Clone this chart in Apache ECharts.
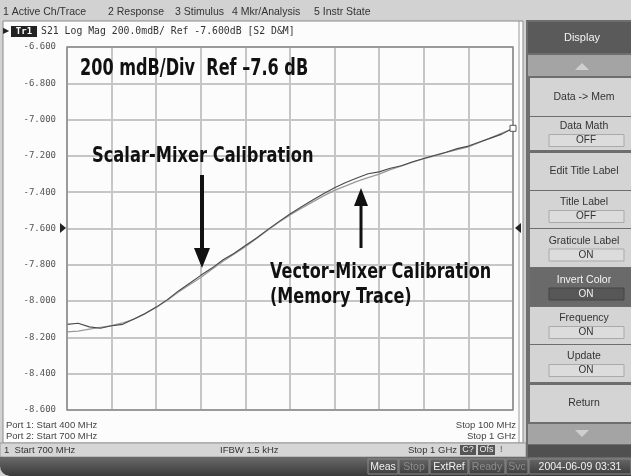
<!DOCTYPE html>
<html>
<head>
<meta charset="utf-8">
<script src="https://cdn.jsdelivr.net/npm/echarts@6/dist/echarts.min.js"></script>
<style>
  html, body { margin: 0; padding: 0; background: #d4d4d4; }
  #chart { width: 631px; height: 476px; }
</style>
</head>
<body>
<div id="chart"></div>
<script>
// stimulus points, MHz (700 MHz .. 1 GHz)
var freqs = [700, 707.5, 715, 722.5, 730, 737.5, 745, 752.5, 760, 767.5,
  775, 782.5, 790, 797.5, 805, 812.5, 820, 827.5, 835, 842.5,
  850, 857.5, 865, 872.5, 880, 887.5, 895, 902.5, 910, 917.5,
  925, 932.5, 940, 947.5, 955, 962.5, 970, 977.5, 985, 992.5, 1000];

// S21 data trace (scalar-mixer cal), dB
var dataTrace = [-8.128, -8.122, -8.142, -8.150, -8.136, -8.128, -8.098, -8.068, -8.033, -7.992,
  -7.944, -7.902, -7.858, -7.818, -7.772, -7.736, -7.694, -7.652, -7.606, -7.562,
  -7.520, -7.482, -7.444, -7.408, -7.376, -7.346, -7.322, -7.298, -7.288, -7.268,
  -7.254, -7.232, -7.214, -7.196, -7.180, -7.160, -7.146, -7.124, -7.102, -7.080, -7.048];

// memory trace (vector-mixer cal), dB
var memTrace = [-8.170, -8.165, -8.155, -8.145, -8.135, -8.120, -8.100, -8.070, -8.035, -7.995,
  -7.950, -7.910, -7.870, -7.825, -7.780, -7.740, -7.700, -7.655, -7.610, -7.565,
  -7.525, -7.490, -7.455, -7.420, -7.390, -7.365, -7.340, -7.320, -7.300, -7.276,
  -7.255, -7.235, -7.215, -7.200, -7.180, -7.165, -7.150, -7.125, -7.100, -7.075, -7.050];

var yTicks = { min: -8.6, max: -6.6, step: 0.2 };

var menuItems = [
  { text: '1 Active Ch/Trace', x: 3 },
  { text: '2 Response', x: 108 },
  { text: '3 Stimulus', x: 175 },
  { text: '4 Mkr/Analysis', x: 232 },
  { text: '5 Instr State', x: 314 }
];

// softkeys: label, sub value, top, bottom, dark
var softkeys = [
  { label: 'Data -> Mem', sub: null, y0: 78, y1: 116 },
  { label: 'Data Math', sub: 'OFF', y0: 117, y1: 150 },
  { label: 'Edit Title Label', sub: null, y0: 153, y1: 190 },
  { label: 'Title Label', sub: 'OFF', y0: 191, y1: 228 },
  { label: 'Graticule Label', sub: 'ON', y0: 229, y1: 267 },
  { label: 'Invert Color', sub: 'ON', y0: 268, y1: 306, dark: true },
  { label: 'Frequency', sub: 'ON', y0: 307, y1: 344 },
  { label: 'Update', sub: 'ON', y0: 345, y1: 382 },
  { label: 'Return', sub: null, y0: 385, y1: 422 }
];

var statusItems = [
  { text: 'Meas', x: 368, w: 30, dim: false },
  { text: 'Stop', x: 399, w: 30, dim: true },
  { text: 'ExtRef', x: 430, w: 38, dim: false },
  { text: 'Ready', x: 469, w: 36, dim: true },
  { text: 'Svc', x: 506, w: 22, dim: true },
  { text: '2004-06-09 03:31', x: 529, w: 102, dim: false }
];

var uiFont = "'Liberation Sans', 'DejaVu Sans', sans-serif";
var monoFont = "'DejaVu Sans Mono', 'Liberation Mono', monospace";
var boldFont = "'DejaVu Sans', 'Liberation Sans', sans-serif";

var g = [];
// screen frame
g.push({ type: 'rect', z: -20, shape: { x: 0, y: 0, width: 631, height: 476 }, style: { fill: '#d2d2d2' } });
// plot window
g.push({ type: 'rect', z: -19, shape: { x: 3, y: 21, width: 520, height: 422 }, style: { fill: '#fcfcfc', stroke: '#8a8a8a', lineWidth: 1 } });
g.push({ type: 'line', z: -18, shape: { x1: 519, y1: 21, x2: 519, y2: 443 }, style: { stroke: '#9a9a9a', lineWidth: 1 } });
// menu
menuItems.forEach(function (m) {
  g.push({ type: 'text', z: 10, x: m.x, y: 12, style: { text: m.text, font: '10.5px ' + uiFont, fill: '#333', textVerticalAlign: 'middle' } });
});
// title line
g.push({ type: 'text', z: 10, x: 3, y: 31, style: { text: '\u25B6', font: '8px ' + uiFont, fill: '#222', textVerticalAlign: 'middle' } });
g.push({ type: 'rect', z: 10, shape: { x: 11, y: 26, width: 26, height: 11 }, style: { fill: '#222' } });
g.push({ type: 'text', z: 11, x: 24, y: 31.5, style: { text: 'Tr1', font: 'bold 9px ' + monoFont, fill: '#fff', textAlign: 'center', textVerticalAlign: 'middle' } });
g.push({ type: 'text', z: 10, x: 41, y: 31, style: { text: 'S21 Log Mag 200.0mdB/ Ref -7.600dB [S2 D&M]', font: '9.8px ' + monoFont, fill: '#333', textVerticalAlign: 'middle' } });
// plot border
g.push({ type: 'rect', z: 5, shape: { x: 67, y: 47, width: 446, height: 363 }, style: { fill: 'none', stroke: '#8c8c8c', lineWidth: 1.5 } });
// reference level markers
g.push({ type: 'polygon', z: 10, shape: { points: [[60, 223], [60, 233], [66, 228]] }, style: { fill: '#222' } });
g.push({ type: 'polygon', z: 10, shape: { points: [[521, 223], [521, 233], [515, 228]] }, style: { fill: '#222' } });
// port / stop lines
g.push({ type: 'text', z: 10, x: 6, y: 425, style: { text: 'Port 1: Start 400 MHz', font: '9.5px ' + uiFont, fill: '#444', textVerticalAlign: 'middle' } });
g.push({ type: 'text', z: 10, x: 6, y: 436, style: { text: 'Port 2: Start 700 MHz', font: '9.5px ' + uiFont, fill: '#444', textVerticalAlign: 'middle' } });
g.push({ type: 'text', z: 10, x: 516, y: 425, style: { text: 'Stop 100 MHz', font: '9.5px ' + uiFont, fill: '#444', textAlign: 'right', textVerticalAlign: 'middle' } });
g.push({ type: 'text', z: 10, x: 516, y: 436, style: { text: 'Stop 1 GHz', font: '9.5px ' + uiFont, fill: '#444', textAlign: 'right', textVerticalAlign: 'middle' } });
// channel status bar
g.push({ type: 'rect', z: -10, shape: { x: 0, y: 443, width: 526, height: 14 }, style: { fill: '#d6d6d6', stroke: '#9a9a9a', lineWidth: 1 } });
g.push({ type: 'text', z: 10, x: 4, y: 450, style: { text: '1  Start 700 MHz', font: '9.5px ' + uiFont, fill: '#333', textVerticalAlign: 'middle' } });
g.push({ type: 'text', z: 10, x: 220, y: 450, style: { text: 'IFBW 1.5 kHz', font: '9.5px ' + uiFont, fill: '#333', textVerticalAlign: 'middle' } });
g.push({ type: 'text', z: 10, x: 457, y: 450, style: { text: 'Stop 1 GHz', font: '9.5px ' + uiFont, fill: '#333', textAlign: 'right', textVerticalAlign: 'middle' } });
g.push({ type: 'rect', z: 10, shape: { x: 460, y: 445, width: 16, height: 10 }, style: { fill: '#555' } });
g.push({ type: 'text', z: 11, x: 468, y: 450, style: { text: 'C?', font: '9px ' + uiFont, fill: '#eee', textAlign: 'center', textVerticalAlign: 'middle' } });
g.push({ type: 'rect', z: 10, shape: { x: 478, y: 445, width: 17, height: 10 }, style: { fill: '#555' } });
g.push({ type: 'text', z: 11, x: 486.5, y: 450, style: { text: 'Ofs', font: '9px ' + uiFont, fill: '#eee', textAlign: 'center', textVerticalAlign: 'middle' } });
g.push({ type: 'text', z: 10, x: 500, y: 450, style: { text: '!', font: '9px ' + uiFont, fill: '#555', textVerticalAlign: 'middle' } });
// bottom instrument bar
g.push({ type: 'rect', z: -5, shape: { x: 0, y: 457, width: 631, height: 19, r: [0, 0, 0, 10] }, style: {
  fill: new echarts.graphic.LinearGradient(0, 0, 0, 1, [{ offset: 0, color: '#6a6a6a' }, { offset: 1, color: '#3a3a3a' }]) } });
statusItems.forEach(function (s) {
  g.push({ type: 'rect', z: 8, shape: { x: s.x, y: 459, width: s.w, height: 15 }, style: { fill: 'none', stroke: '#8a8a8a', lineWidth: 1 } });
  g.push({ type: 'text', z: 9, x: s.x + s.w / 2, y: 467, style: { text: s.text, font: '10.5px ' + uiFont, fill: s.dim ? '#8c8c8c' : '#f2f2f2', textAlign: 'center', textVerticalAlign: 'middle' } });
});
// softkey panel
g.push({ type: 'rect', z: -9, shape: { x: 526, y: 20, width: 105, height: 437 }, style: { fill: '#6e6e6e' } });
g.push({ type: 'rect', z: -8, shape: { x: 528, y: 22, width: 103, height: 31 }, style: { fill: '#5a5a5a' } });
g.push({ type: 'text', z: 10, x: 582, y: 38, style: { text: 'Display', font: '11px ' + uiFont, fill: '#f4f4f4', textAlign: 'center', textVerticalAlign: 'middle' } });
g.push({ type: 'rect', z: -8, shape: { x: 528, y: 55, width: 103, height: 21 }, style: { fill: '#a4a4a4' } });
g.push({ type: 'polygon', z: -7, shape: { points: [[575, 70], [589, 70], [582, 63]] }, style: { fill: '#cfcfcf' } });
g.push({ type: 'rect', z: -8, shape: { x: 528, y: 424, width: 103, height: 20 }, style: { fill: '#a4a4a4' } });
g.push({ type: 'polygon', z: -7, shape: { points: [[575, 430], [589, 430], [582, 437]] }, style: { fill: '#cfcfcf' } });
g.push({ type: 'rect', z: -8, shape: { x: 528, y: 445, width: 103, height: 12 }, style: { fill: '#505050' } });
softkeys.forEach(function (k) {
  var fillC = k.dark ? '#6a6a6a' : '#d4d4d4';
  var txtC = k.dark ? '#f4f4f4' : '#333';
  g.push({ type: 'rect', z: -8, shape: { x: 530, y: k.y0, width: 101, height: k.y1 - k.y0 }, style: { fill: fillC } });
  if (k.sub) {
    var mid = (k.y0 + k.y1) / 2;
    g.push({ type: 'text', z: 10, x: 584, y: mid - 7, style: { text: k.label, font: '10.5px ' + uiFont, fill: txtC, textAlign: 'center', textVerticalAlign: 'middle' } });
    g.push({ type: 'rect', z: -7, shape: { x: 549, y: mid + 1, width: 75, height: 12 }, style: { fill: k.dark ? '#575757' : '#dcdcdc', stroke: k.dark ? '#444' : '#aaa', lineWidth: 1 } });
    g.push({ type: 'text', z: 10, x: 586, y: mid + 7, style: { text: k.sub, font: '10px ' + uiFont, fill: txtC, textAlign: 'center', textVerticalAlign: 'middle' } });
  } else {
    g.push({ type: 'text', z: 10, x: 584, y: (k.y0 + k.y1) / 2, style: { text: k.label, font: '10.5px ' + uiFont, fill: txtC, textAlign: 'center', textVerticalAlign: 'middle' } });
  }
});
// annotations (condensed bold look via horizontal scale)
g.push({ type: 'text', z: 20, x: 80, y: 69, scaleX: 0.70, style: { text: '200 mdB/Div  Ref \u20137.6 dB', font: 'bold 23px ' + boldFont, fill: '#111', textVerticalAlign: 'middle' } });
g.push({ type: 'text', z: 20, x: 92, y: 157, scaleX: 0.775, style: { text: 'Scalar-Mixer Calibration', font: 'bold 21px ' + boldFont, fill: '#111', textVerticalAlign: 'middle' } });
g.push({ type: 'text', z: 20, x: 270, y: 273, scaleX: 0.765, style: { text: 'Vector-Mixer Calibration', font: 'bold 21px ' + boldFont, fill: '#111', textVerticalAlign: 'middle' } });
g.push({ type: 'text', z: 20, x: 270, y: 298, scaleX: 0.765, style: { text: '(Memory Trace)', font: 'bold 21px ' + boldFont, fill: '#111', textVerticalAlign: 'middle' } });
g.push({ type: 'rect', z: 20, shape: { x: 200, y: 175, width: 4, height: 76 }, style: { fill: '#111' } });
g.push({ type: 'polygon', z: 20, shape: { points: [[194, 248], [210, 248], [202, 268]] }, style: { fill: '#111' } });
g.push({ type: 'rect', z: 20, shape: { x: 359.5, y: 204, width: 3, height: 44 }, style: { fill: '#111' } });
g.push({ type: 'polygon', z: 20, shape: { points: [[354, 206], [368, 206], [361, 188]] }, style: { fill: '#111' } });

var chart = echarts.init(document.getElementById('chart'));
chart.setOption({
  animation: false,
  backgroundColor: '#d2d2d2',
  graphic: { elements: g },
  grid: { left: 67, top: 47, right: 118, bottom: 66, show: false },
  xAxis: {
    type: 'category',
    data: freqs,
    boundaryGap: false,
    axisLine: { show: false },
    axisTick: { show: false },
    axisLabel: { show: false },
    splitLine: { show: true, interval: 3, lineStyle: { color: '#c6c6c6', width: 2 } }
  },
  yAxis: {
    type: 'value',
    min: yTicks.min,
    max: yTicks.max,
    interval: yTicks.step,
    axisLine: { show: false },
    axisTick: { show: false },
    axisLabel: {
      margin: 11,
      fontFamily: 'DejaVu Sans Mono',
      fontSize: 9,
      color: '#555',
      formatter: function (v) { return v.toFixed(3); }
    },
    splitLine: { lineStyle: { color: '#c6c6c6', width: 2 } }
  },
  series: [
    {
      name: 'Memory',
      type: 'line',
      data: memTrace,
      symbol: 'none',
      lineStyle: { color: '#9a9a9a', width: 1.3 },
      z: 3
    },
    {
      name: 'Data',
      type: 'line',
      data: dataTrace,
      symbol: 'none',
      lineStyle: { color: '#4a4a4a', width: 1.1 },
      z: 4,
      markPoint: {
        symbol: 'rect',
        symbolSize: 6,
        label: { show: false },
        itemStyle: { color: '#fff', borderColor: '#555', borderWidth: 1 },
        data: [{ coord: [freqs.length - 1, dataTrace[dataTrace.length - 1]] }]
      }
    }
  ]
});
</script>
</body>
</html>
